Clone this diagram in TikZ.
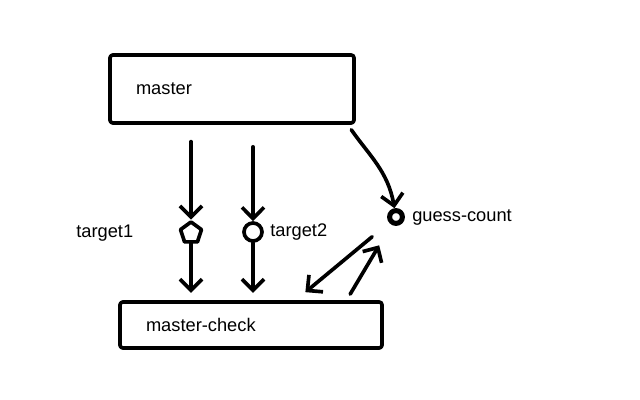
\documentclass[tikz,border=0pt]{standalone}
\usepackage{fontspec}
\setmainfont{Liberation Sans}
\usetikzlibrary{positioning, shapes.geometric, arrows.meta}

\begin{document}
\begin{tikzpicture}[
  every node/.style={font=\fontsize{13}{15}\selectfont},
  line width=2.6pt, line cap=round, line join=round,
  box/.style={draw, rectangle, rounded corners=2pt, align=left, inner xsep=0.65cm},
  dot/.style={draw, inner sep=0pt, minimum size=0.45cm},
  arr/.style={-{Straight Barb[length=2.8mm,width=5.5mm]}}]

\fill[white] (0,0) rectangle (16,10);

\node[box, text width=4.8cm, minimum height=1.7cm] (master) at (5.8,7.775) {master};
\node[box, text width=5.25cm, minimum height=1.15cm] (check) at (6.275,1.875) {master-check};

\node[dot, regular polygon, regular polygon sides=5, minimum size=0.55cm,
      label={[label distance=1.0cm]left:target1}] (t1) at (4.775,4.175) {};
\node[dot, circle, label={[label distance=0cm]right:target2}] (t2) at (6.325,4.2) {};
\node[dot, circle, line width=3.6pt, minimum size=0.32cm,
      label={[label distance=0.02cm]right:guess-count}] (guess) at (9.9,4.575) {};

\coordinate (c1) at ([xshift=4.68cm,yshift=0.2cm]check.north west);
\coordinate (c2) at ([xshift=5.8cm,yshift=0.15cm]check.north west);

\draw[arr, shorten <=0.42cm] (master.south -| t1) -- (t1);
\draw[arr, shorten <=0.55cm] (master.south -| t2) -- (t2);
\draw[arr, shorten >=0.18cm] (t1) -- (t1 |- check.north);
\draw[arr, shorten >=0.18cm] (t2) -- (t2 |- check.north);
\draw[arr, shorten <=0.15cm] ([xshift=-0.2cm]master.south east) to[out=-55,in=100] (guess);
\draw[arr, shorten <=0.55cm] (guess) -- (c1);
\draw[arr, shorten >=0.6cm] (c2) -- (guess);
\end{tikzpicture}
\end{document}
